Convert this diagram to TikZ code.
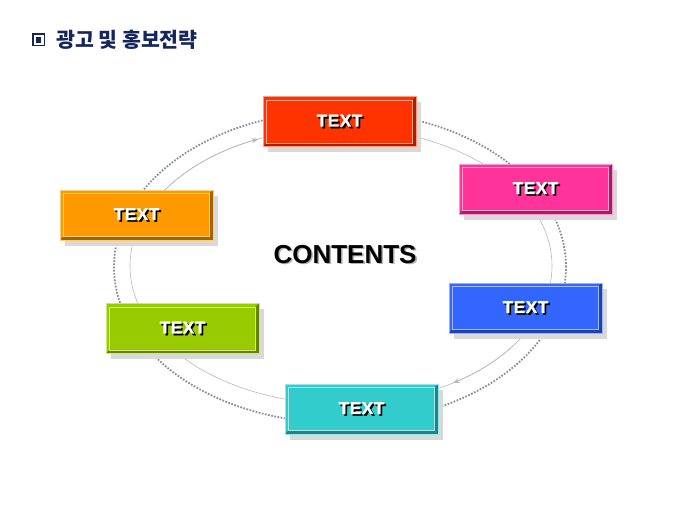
\documentclass[tikz,border=0pt]{standalone}
\usepackage{fontspec}
\setmainfont{Liberation Sans}
\newfontfamily\heavyfont[BoldFeatures={FakeBold=1.6,LetterSpace=4}]{Liberation Sans}
\newfontfamily\cjk{Noto Sans CJK KR}
\usetikzlibrary{shadows,arrows.meta}

\definecolor{boxred}{RGB}{255,51,0}
\definecolor{boxpink}{RGB}{255,51,153}
\definecolor{boxorange}{RGB}{255,153,0}
\definecolor{boxblue}{RGB}{51,102,255}
\definecolor{boxgreen}{RGB}{153,204,0}
\definecolor{boxteal}{RGB}{51,204,204}
\definecolor{titlenavy}{RGB}{22,38,92}
\definecolor{ringdots}{RGB}{138,140,160}

% white label with a dark shadow behind it
\newcommand{\boxlabel}[1]{\makebox[0pt][l]{\hspace{1.8pt}\raisebox{-1.8pt}{\textcolor{black}{#1}}}\textcolor{white}{#1}}
% black heading with a soft gray shadow
\newcommand{\centerlabel}[1]{\makebox[0pt][l]{\hspace{1.6pt}\raisebox{-1.6pt}{\textcolor{black!30}{#1}}}\textcolor{black}{#1}}

\tikzset{
  bevelbox/.style={
    minimum width=153pt, minimum height=50pt, inner sep=0pt,
    fill=#1, draw=#1!50!white, line width=0.8pt,
    font=\heavyfont\bfseries\fontsize{17}{17}\selectfont,
    drop shadow={shadow xshift=5pt, shadow yshift=-6pt, opacity=1, fill=black!15, draw=none},
    path picture={
      \fill[#1!65!black] (path picture bounding box.north east) -- (path picture bounding box.south east)
        -- (path picture bounding box.south west) -- ([shift={(3.5pt,3.5pt)}]path picture bounding box.south west)
        -- ([shift={(-3.5pt,3.5pt)}]path picture bounding box.south east) -- ([shift={(-3.5pt,-3.5pt)}]path picture bounding box.north east) -- cycle;
      \draw[#1!45!white, line width=0.8pt] ([shift={(3.5pt,3.5pt)}]path picture bounding box.south west)
        rectangle ([shift={(-3.5pt,-3.5pt)}]path picture bounding box.north east);
    }
  },
  titlemark/.style={
    draw=titlenavy, line width=1.5pt, minimum size=11.5pt, inner sep=0pt,
    path picture={
      \fill[titlenavy] ([shift={(2.8pt,2.8pt)}]path picture bounding box.south west)
        rectangle ([shift={(-2.8pt,-2.8pt)}]path picture bounding box.north east);
    }
  },
  ringline/.style={black!28, line width=0.6pt},
  ringdotted/.style={ringdots, line width=1.8pt, dash pattern=on 1.7pt off 1.5pt}
}

\begin{document}
\begin{tikzpicture}[x=1pt,y=1pt]

    % Page size of the slide
    \useasboundingbox (0,0) rectangle (680,510);

    % Centre of the two rings
    \coordinate (O) at (341,244);

    % Outer dotted ring and inner thin ring
    \draw[ringdotted] (340,243) ellipse [x radius=226, y radius=156];
    \draw[ringline] (O) ellipse [x radius=211, y radius=138];

    % Arrow heads on the inner ring (clockwise)
    \draw[ringline, -{Stealth[length=7pt,width=5pt]}] ([shift={(150:211 and 138)}]O)
        arc [start angle=150, end angle=113, x radius=211, y radius=138];
    \draw[ringline, -{Stealth[length=7pt,width=5pt]}] ([shift={(-35:211 and 138)}]O)
        arc [start angle=-35, end angle=-58, x radius=211, y radius=138];

    % Title
    \node[titlemark] (mark) at (38.5,470) {};
    \node[anchor=west, inner sep=0pt, text=titlenavy, font=\cjk\bfseries\fontsize{20.5}{20.5}\selectfont]
        (title) at (56,470) {광고 및 홍보전략};

    % The six boxes round the ring
    \node[bevelbox=boxred] (red) at (339.5,388.5) {\boxlabel{TEXT}};
    \node[bevelbox=boxpink] (pink) at (535.5,321) {\boxlabel{TEXT}};
    \node[bevelbox=boxblue] (blue) at (525.5,202) {\boxlabel{TEXT}};
    \node[bevelbox=boxteal] (teal) at (361.5,101) {\boxlabel{TEXT}};
    \node[bevelbox=boxgreen] (green) at (182.5,181.5) {\boxlabel{TEXT}};
    \node[bevelbox=boxorange] (orange) at (136.5,295) {\boxlabel{TEXT}};

    % Centre heading
    \node[inner sep=0pt, font=\bfseries\fontsize{26}{26}\selectfont] (contents) at (345,255) {\centerlabel{CONTENTS}};

\end{tikzpicture}
\end{document}
